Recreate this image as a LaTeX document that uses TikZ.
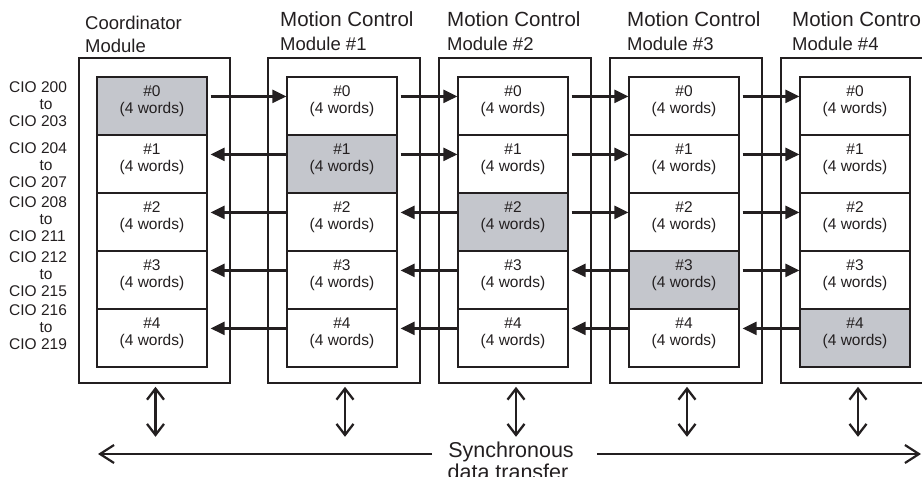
\documentclass[tikz,border=0pt]{standalone}
\usepackage{fontspec}
\setmainfont{Liberation Sans}
\usetikzlibrary{arrows.meta}
\definecolor{shade}{RGB}{196,198,204}
\definecolor{ink}{RGB}{35,31,32}
\begin{document}
\begin{tikzpicture}[x=1pt,y=-1pt,
  modbox/.style={draw=ink, line width=1.6pt, minimum width=152pt, minimum height=325pt, inner sep=0pt},
  cell/.style={draw=ink, line width=1.2pt, minimum width=110pt, minimum height=58pt, inner sep=0pt},
  celltxt/.style={font=\fontsize{15.5}{17}\selectfont, text=ink, inner sep=0pt, anchor=base},
  lbl/.style={font=\fontsize{15.5}{17}\selectfont, text=ink, inner sep=0pt, anchor=base west},
  title/.style={font=\fontsize{18.5}{20}\selectfont, text=ink, inner sep=0pt, anchor=base west},
  bigtitle/.style={font=\fontsize{20.5}{22}\selectfont, text=ink, inner sep=0pt, anchor=base west},
  synctxt/.style={font=\fontsize{21.5}{23}\selectfont, text=ink, inner sep=0pt, anchor=base},
  flow/.style={draw=ink, line width=2.3pt, -{Triangle[length=14pt,width=13pt]}},
  dbl/.style={draw=ink, line width=2.3pt, {Straight Barb[length=11pt,width=17pt]}-{Straight Barb[length=11pt,width=17pt]}},
  longarr/.style={draw=ink, line width=2.2pt, -{Straight Barb[length=14pt,width=18pt]}}
]
\useasboundingbox (0,0) rectangle (922,477);

% module outer boxes
\node[modbox, minimum width=151pt] (m0) at (154.5,220.5) {};
\foreach \i/\l in {1/268,2/439,3/610,4/781}
  \node[modbox] (m\i) at ({\l+76},220.5) {};

% titles
\node[title] (tc1) at (85,29) {Coordinator};
\node[title] (tc2) at (85,52) {Module};
\foreach \i/\x in {1/280,2/447,3/627,4/792} {
  \node[bigtitle] (ta\i) at (\x,26) {Motion Control};
  \node[title] (tb\i) at (\x,50) {Module \#\i};
}

% cells
\foreach \i/\x in {0/97,1/287,2/458,3/629,4/800} {
  \foreach \r in {0,...,4} {
    \ifnum\i=\r \def\fc{shade}\else\def\fc{white}\fi
    \node[cell, fill=\fc] (c\i\r) at ({\x+55},{106+58*\r}) {};
    \node[celltxt] (h\i\r) at ([yshift=-20pt]c\i\r.north) {\#\r};
    \node[celltxt] (w\i\r) at ([yshift=-37pt]c\i\r.north) {(4 words)};
  }
}

% CIO labels
\foreach \r/\a/\b/\y in {0/200/203/92, 1/204/207/153, 2/208/211/207, 3/212/215/262, 4/216/219/315} {
  \node[lbl] (la\r) at (9,\y) {CIO \a};
  \node[celltxt] (lt\r) at (46,{\y+17}) {to};
  \node[lbl] (lb\r) at (9,{\y+34}) {CIO \b};
}

% data arrows
\foreach \i/\j in {0/1,1/2,2/3,3/4} {
  \foreach \r in {0,...,4} {
    \ifnum\r>\i
      \draw[flow] ([yshift=-20pt]c\j\r.north west) -- ([xshift=3pt,yshift=-20pt]c\i\r.north east);
    \else
      \draw[flow] ([xshift=3pt,yshift=-20pt]c\i\r.north east) -- ([yshift=-20pt]c\j\r.north west);
    \fi
  }
}

% vertical double arrows
\foreach \i in {0,...,4}
  \draw[dbl] ([xshift=1pt,yshift=-3pt]m\i.south) -- ([xshift=1pt,yshift=-53pt]m\i.south);

% synchronous data transfer
\node[synctxt] (s1) at (511,457) {Synchronous};
\node[synctxt] (s2) at (508,479) {data transfer};
\coordinate (sl) at (98,454);
\coordinate (sr) at (921,454);
\draw[longarr] ([xshift=-16pt]s1.west |- sl) -- (sl);
\draw[longarr] ([xshift=23pt]s1.east |- sr) -- (sr);
\end{tikzpicture}
\end{document}
